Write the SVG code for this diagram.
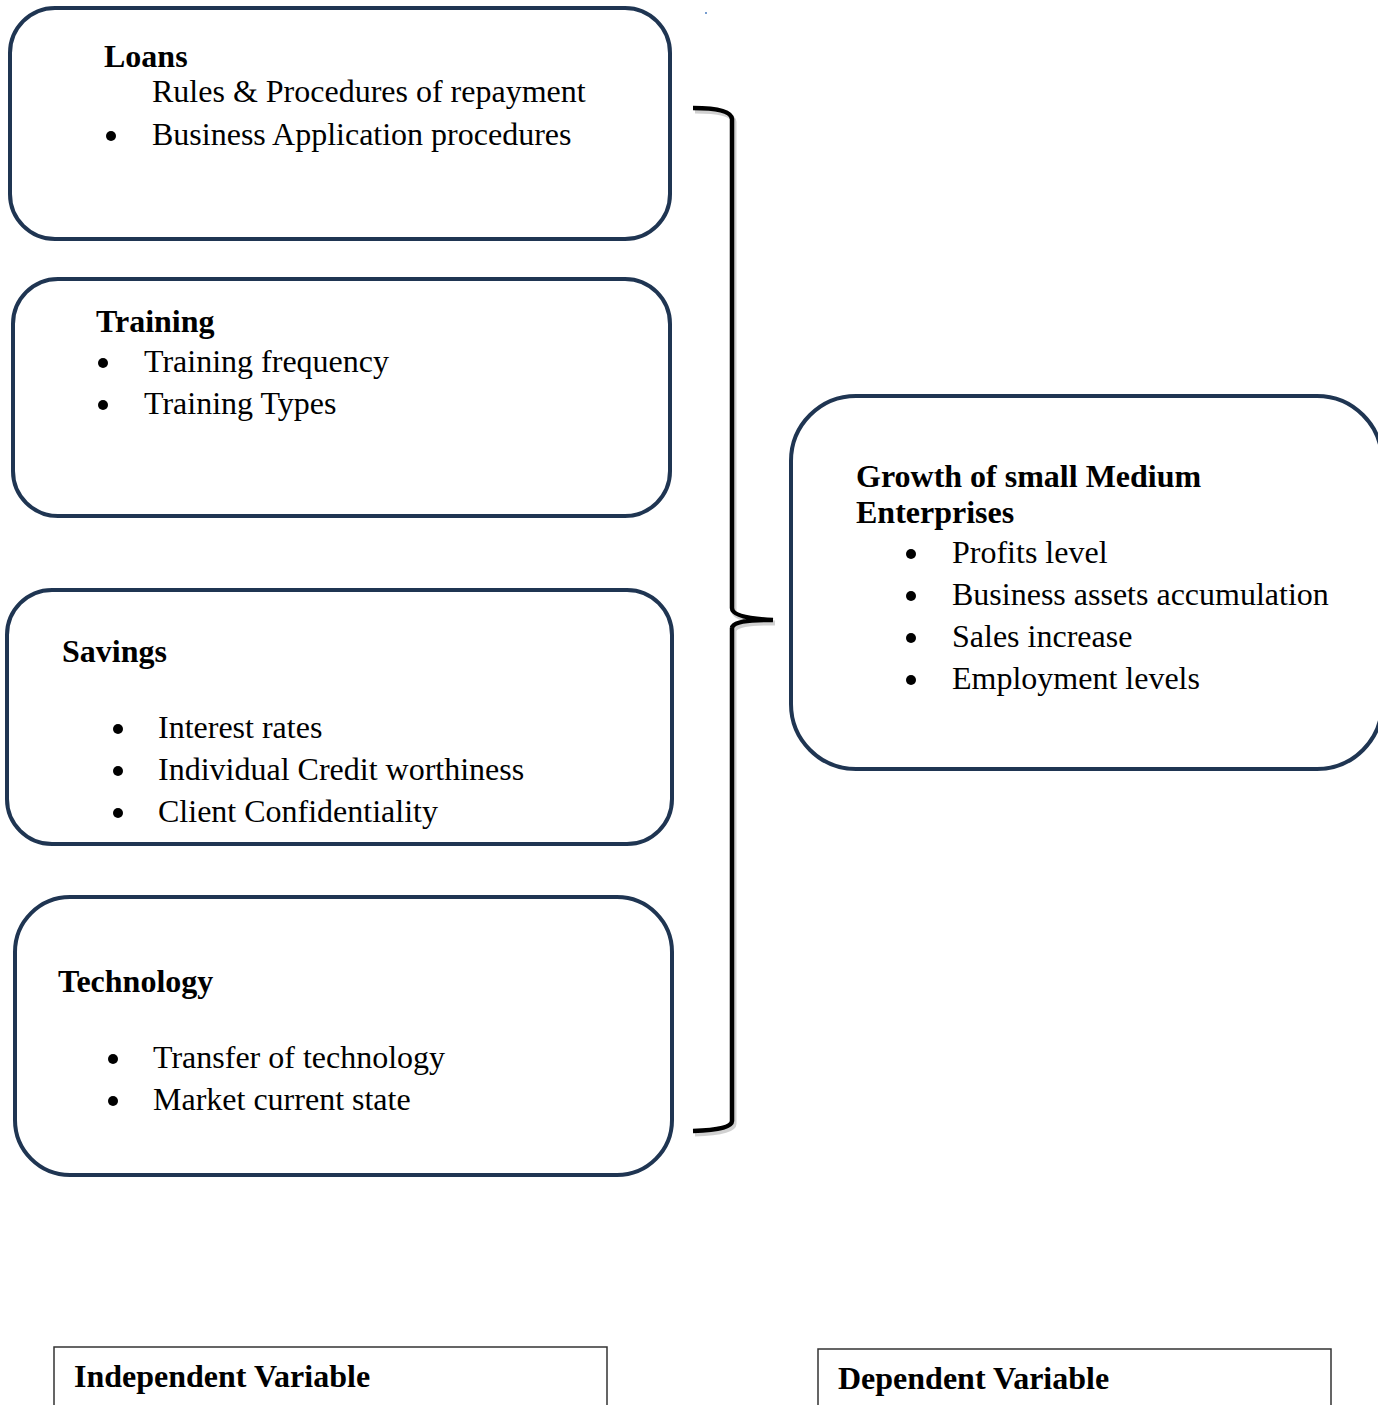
<svg xmlns="http://www.w3.org/2000/svg" width="1378" height="1405" viewBox="0 0 1378 1405">
<style>
.box{fill:#fff;stroke:#1f3552;stroke-width:4}
.t{font-family:"Liberation Serif","Times New Roman",serif;font-size:32px;fill:#000}
.b{font-weight:bold}
.dot{fill:#000}
.lbl{fill:#fff;stroke:#333;stroke-width:1.5}
.brace{fill:none;stroke:#000;stroke-width:4.5;stroke-linejoin:round}
.shadow{fill:none;stroke:#000;stroke-opacity:0.18;stroke-width:5}
</style>
<rect width="1378" height="1405" fill="#fff"/>
<circle cx="706" cy="13" r="1" fill="#4a7cc0"/>

<g id="loans">
<rect class="box" x="10" y="8" width="660" height="231" rx="45"/>
<text class="t b" x="104" y="67">Loans</text>
<text class="t" x="152" y="102">Rules &amp; Procedures of repayment</text>
<circle class="dot" cx="111" cy="136" r="5"/>
<text class="t" x="152" y="145">Business Application procedures</text>
</g>

<g id="training">
<rect class="box" x="13" y="279" width="657" height="237" rx="45"/>
<text class="t b" x="96" y="332">Training</text>
<circle class="dot" cx="103" cy="363" r="5"/>
<text class="t" x="144" y="372">Training frequency</text>
<circle class="dot" cx="103" cy="405" r="5"/>
<text class="t" x="144" y="414">Training Types</text>
</g>

<g id="savings">
<rect class="box" x="7" y="590" width="665" height="254" rx="45"/>
<text class="t b" x="62" y="662">Savings</text>
<circle class="dot" cx="118" cy="729" r="5"/>
<text class="t" x="158" y="738">Interest rates</text>
<circle class="dot" cx="118" cy="771" r="5"/>
<text class="t" x="158" y="780">Individual Credit worthiness</text>
<circle class="dot" cx="118" cy="813" r="5"/>
<text class="t" x="158" y="822">Client Confidentiality</text>
</g>

<g id="technology">
<rect class="box" x="15" y="897" width="657" height="278" rx="55"/>
<text class="t b" x="58" y="992">Technology</text>
<circle class="dot" cx="113" cy="1059" r="5"/>
<text class="t" x="153" y="1068">Transfer of technology</text>
<circle class="dot" cx="113" cy="1101" r="5"/>
<text class="t" x="153" y="1110">Market current state</text>
</g>

<g id="growth">
<rect class="box" x="791" y="396" width="591" height="373" rx="65"/>
<text class="t b" x="856" y="487">Growth of small Medium</text>
<text class="t b" x="856" y="523">Enterprises</text>
<circle class="dot" cx="911" cy="554" r="5"/>
<text class="t" x="952" y="563">Profits level</text>
<circle class="dot" cx="911" cy="596" r="5"/>
<text class="t" x="952" y="605">Business assets accumulation</text>
<circle class="dot" cx="911" cy="638" r="5"/>
<text class="t" x="952" y="647">Sales increase</text>
<circle class="dot" cx="911" cy="680" r="5"/>
<text class="t" x="952" y="689">Employment levels</text>
</g>

<g id="connectors">
<path class="shadow" d="M695 111 Q733 111 734 122 L734 611 Q734 621 775 623 M734 631 Q735 622 775 623 M734 631 L734 1124 Q734 1133 695 1134"/>
<path class="brace" d="M693 108 Q731 108 732 119 L732 608 Q732 618 773 620 M732 628 Q733 619 773 620 M732 628 L732 1121 Q732 1130 693 1131"/>
</g>

<g id="independent">
<path class="lbl" d="M54 1405 L54 1347 L607 1347 L607 1405"/>
<text class="t b" x="74" y="1387">Independent Variable</text>
</g>

<g id="dependent">
<path class="lbl" d="M818 1405 L818 1349 L1331 1349 L1331 1405"/>
<text class="t b" x="838" y="1389">Dependent Variable</text>
</g>
</svg>
